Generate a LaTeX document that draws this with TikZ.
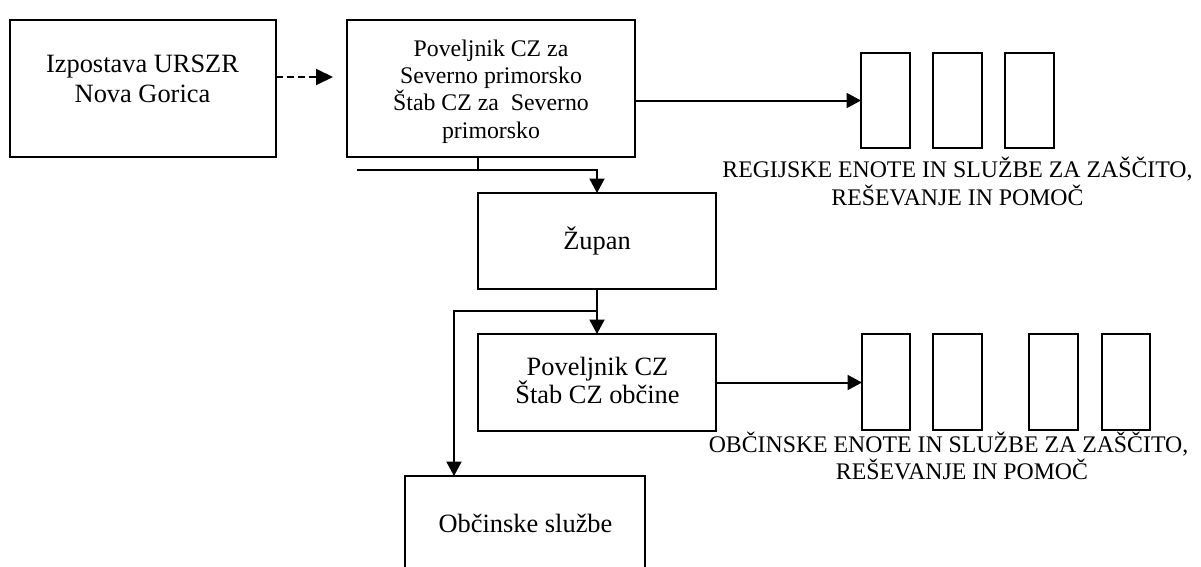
\documentclass[tikz,border=0pt]{standalone}
\usepackage{fontspec}
\setmainfont{Liberation Serif}
\usetikzlibrary{arrows.meta}
\tikzset{
  box/.style={draw, line width=2pt, inner sep=0pt, outer sep=0pt},
  bigtxt/.style={font=\fontsize{26.4}{30}\selectfont, inner sep=0pt, anchor=base},
  smalltxt/.style={font=\fontsize{23.8}{27}\selectfont, inner sep=0pt, anchor=base},
  conn/.style={line width=2pt},
  arr/.style={line width=2pt, -{Triangle[length=14.5pt,width=15pt]}},
  darr/.style={line width=2pt, dash pattern=on 7pt off 4pt, -{Triangle[length=17pt,width=16pt]}}
}
\begin{document}
\begin{tikzpicture}[x=1pt,y=-1pt]
\useasboundingbox (0,0) rectangle (1201,566);
\fill[white] (0,0) rectangle (1201,566);
\clip (0,0) rectangle (1201,566);

% main boxes
\node[box, minimum width=266pt, minimum height=137pt] (A) at (143,88.5) {};
\node[box, minimum width=288pt, minimum height=137pt] (B) at (491,88.5) {};
\node[box, minimum width=238pt, minimum height=96pt] (Z) at (597,241) {};
\node[box, minimum width=238pt, minimum height=97pt] (P) at (597,382.5) {};
\node[box, minimum width=240pt, minimum height=144pt] (O) at (525,548) {};

% small boxes, regional
\node[box, minimum width=49pt, minimum height=95pt] (r1) at (885.5,100.5) {};
\node[box, minimum width=49pt, minimum height=95pt] (r2) at (957.5,100.5) {};
\node[box, minimum width=49pt, minimum height=95pt] (r3) at (1029.5,100.5) {};

% small boxes, municipal
\node[box, minimum width=48pt, minimum height=96pt] (b1) at (886,382) {};
\node[box, minimum width=49pt, minimum height=96pt] (b2) at (957.5,382) {};
\node[box, minimum width=49pt, minimum height=96pt] (b3) at (1053.5,382) {};
\node[box, minimum width=48pt, minimum height=96pt] (b4) at (1126,382) {};

% texts
\node[bigtxt] (tA1) at (142.5,72) {Izpostava URSZR};
\node[bigtxt] (tA2) at (142.5,102) {Nova Gorica};

\node[smalltxt] (tB1) at (491,56) {Poveljnik CZ za};
\node[smalltxt] (tB2) at (491,83.3) {Severno primorsko};
\node[smalltxt] (tB3) at (491,110.6) {Štab CZ za~ Severno};
\node[smalltxt] (tB4) at (491,138) {primorsko};

\node[bigtxt] (tZ) at (597,249) {Župan};

\node[bigtxt] (tP1) at (597.5,375) {Poveljnik CZ};
\node[bigtxt] (tP2) at (597.5,403) {Štab CZ občine};

\node[bigtxt] (tO) at (525.5,532.5) {Občinske službe};

\node[smalltxt] (tR1) at (957.5,177) {REGIJSKE ENOTE IN SLUŽBE ZA ZAŠČITO,};
\node[smalltxt] (tR2) at (957.5,205) {REŠEVANJE IN POMOČ};

\node[smalltxt] (tM1) at (948.5,452) {OBČINSKE ENOTE IN SLUŽBE ZA ZAŠČITO,};
\node[smalltxt] (tM2) at (962,479) {REŠEVANJE IN POMOČ};

% connectors
\coordinate (dtip) at (333,77);
\draw[darr] (A.east |- dtip) -- (dtip);

\draw[arr] (B.east |- r1.west) -- (r1.west);

\coordinate (j1) at (357,170);
\draw[conn] (B.south -| Z.west) -- (Z.west |- j1);
\draw[arr] (j1) -| (Z.north);

\coordinate (j2) at (597,311);
\coordinate (j3) at (454,311);
\draw[arr] (Z.south) -- (P.north);
\draw[arr] (j2) -- (j3) -- (j3 |- O.north);

\draw[arr] (P.east) -- (P.east -| b1.west);
\end{tikzpicture}
\end{document}
